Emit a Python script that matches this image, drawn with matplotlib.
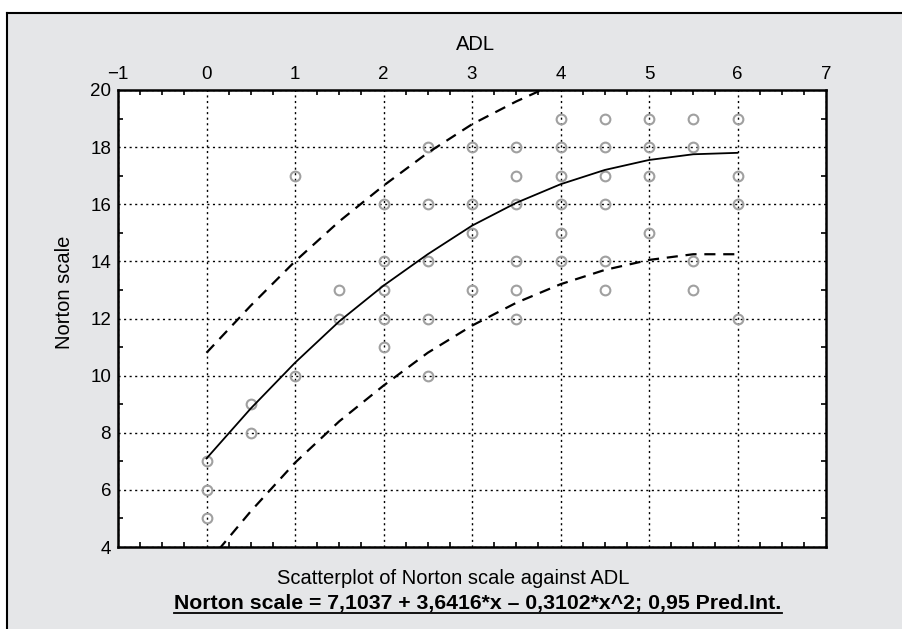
import matplotlib
matplotlib.use("Agg")
import matplotlib.pyplot as plt
from matplotlib.lines import Line2D
from matplotlib.patches import Rectangle
from matplotlib.ticker import MultipleLocator

plt.rcParams['font.family'] = ['Liberation Sans Narrow', 'Liberation Sans', 'DejaVu Sans']

# observed points (ADL, Norton scale)
adl = [0, 0, 0,
       0.5, 0.5,
       1, 1,
       1.5, 1.5,
       2, 2, 2, 2, 2,
       2.5, 2.5, 2.5, 2.5, 2.5,
       3, 3, 3, 3,
       3.5, 3.5, 3.5, 3.5, 3.5, 3.5,
       4, 4, 4, 4, 4, 4,
       4.5, 4.5, 4.5, 4.5, 4.5, 4.5,
       5, 5, 5, 5,
       5.5, 5.5, 5.5, 5.5,
       6, 6, 6, 6]
norton = [7, 6, 5,
          9, 8,
          17, 10,
          13, 12,
          16, 14, 13, 12, 11,
          18, 16, 14, 12, 10,
          18, 16, 15, 13,
          18, 17, 16, 14, 13, 12,
          19, 18, 17, 16, 15, 14,
          19, 18, 17, 16, 14, 13,
          19, 18, 17, 15,
          19, 18, 14, 13,
          19, 17, 16, 12]

# fitted curve and 0.95 prediction band
curve_x = [0, 0.5, 1, 1.5, 2, 2.5, 3, 3.5, 4, 4.5, 5, 5.5, 6]
fit_y = [7.1, 8.85, 10.45, 11.9, 13.15, 14.25, 15.25, 16.05, 16.7, 17.2, 17.55, 17.75, 17.8]
upper_y = [10.8, 12.45, 14.0, 15.4, 16.65, 17.8, 18.8, 19.6, 20.3, 20.8, 21.1, 21.3, 21.35]
lower_y = [3.4, 5.25, 6.95, 8.4, 9.65, 10.8, 11.75, 12.55, 13.2, 13.7, 14.05, 14.25, 14.25]

W, H = 902, 629
fig = plt.figure(figsize=(9.02, 6.29), dpi=100)
fig.patch.set_facecolor('white')

# gray panel with black top/left edge
fig.patches.append(Rectangle((7 / W, 0), 1, 1 - 13 / H, transform=fig.transFigure,
                             facecolor='#e5e6e8', edgecolor='none', zorder=-1))
fig.lines.append(Line2D([7 / W, 1], [1 - 13 / H, 1 - 13 / H], transform=fig.transFigure,
                        color='black', lw=1.5))
fig.lines.append(Line2D([7 / W, 7 / W], [0, 1 - 13 / H], transform=fig.transFigure,
                        color='black', lw=1.5))

ax = fig.add_axes([118 / W, 1 - 547 / H, 708 / W, 457 / H])
ax.set_zorder(1)
ax.set_facecolor('white')

ax.plot(adl, norton, linestyle='none', marker='o', markersize=7,
        markerfacecolor='none', markeredgecolor='#a0a0a0', markeredgewidth=1.5, zorder=3)
ax.plot(curve_x, fit_y, color='black', lw=1.3, zorder=4)
ax.plot(curve_x, upper_y, color='black', lw=1.6, linestyle=(0, (5, 3.5)), zorder=4)
ax.plot(curve_x, lower_y, color='black', lw=1.6, linestyle=(0, (5, 3.5)), zorder=4)

ax.set_xlim(-1, 7)
ax.set_ylim(4, 20)
ax.xaxis.set_major_locator(MultipleLocator(1))
ax.xaxis.set_minor_locator(MultipleLocator(0.25))
ax.yaxis.set_major_locator(MultipleLocator(2))
ax.yaxis.set_minor_locator(MultipleLocator(1))

ax.grid(True, which='major', color='black', lw=1.0, linestyle=(0, (1.5, 2.5)))
ax.tick_params(which='both', direction='in', top=True, bottom=True, left=True, right=True,
               labeltop=True, labelbottom=False, labelsize=13.5, width=1.2)
ax.tick_params(which='major', length=0, pad=5)
ax.tick_params(which='minor', length=3.5)
for s in ax.spines.values():
    s.set_linewidth(1.8)

fig.text(475 / W, 1 - 45 / H, 'ADL', ha='center', va='center', fontsize=14.5)
fig.text(65 / W, 1 - 292 / H, 'Norton scale', ha='center', va='center', rotation=90, fontsize=14.5)
fig.text(453 / W, 1 - 578 / H, 'Scatterplot of Norton scale against ADL',
         ha='center', va='center', fontsize=14.5)
eq = fig.text(478 / W, 1 - 604 / H,
              'Norton scale = 7,1037 + 3,6416*x \u2013 0,3102*x^2; 0,95 Pred.Int.',
              ha='center', va='center', fontsize=15.3, fontweight='bold')

# underline the equation
fig.canvas.draw()
bb = eq.get_window_extent().transformed(fig.transFigure.inverted())
uy = bb.y0 + 1.0 / H
fig.lines.append(Line2D([bb.x0, bb.x1], [uy, uy], transform=fig.transFigure,
                        color='black', lw=1.3))

fig.savefig('out.png', dpi=100)
